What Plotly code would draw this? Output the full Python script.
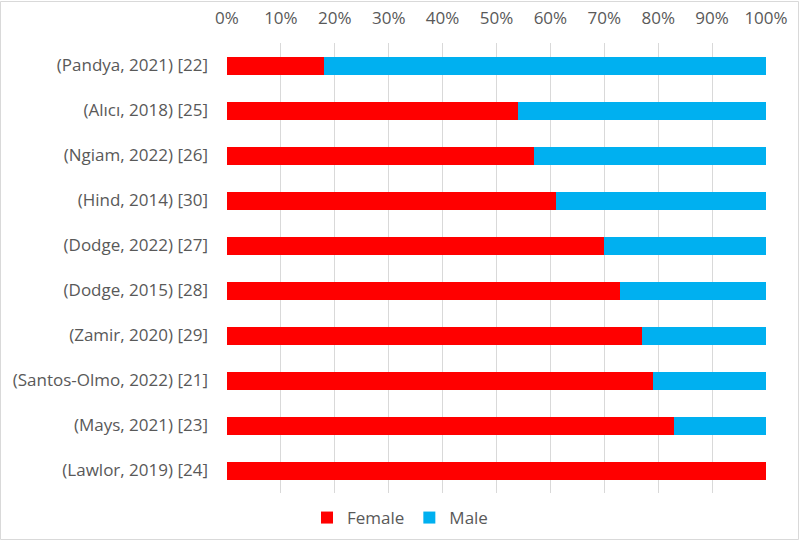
import plotly.graph_objects as go

studies = ["(Pandya, 2021) [22]", "(Alıcı, 2018) [25]", "(Ngiam, 2022) [26]", "(Hind, 2014) [30]",
           "(Dodge, 2022) [27]", "(Dodge, 2015) [28]", "(Zamir, 2020) [29]", "(Santos-Olmo, 2022) [21]",
           "(Mays, 2021) [23]", "(Lawlor, 2019) [24]"]
female = [18, 54, 57, 61, 70, 73, 77, 79, 83, 100]
male = [82, 46, 43, 39, 30, 27, 23, 21, 17, 0]
x_ticks = list(range(0, 101, 10))
x_ticktext = [f"{v}%" for v in x_ticks]

W, H = 800, 541
L, R, T, B = 227, 34, 43, 48
pw, ph = W - L - R, H - T - B

def px(x):
    return (x - L) / pw

def py(y):
    return (H - B - y) / ph

fig = go.Figure()
fig.add_trace(go.Bar(y=studies, x=female, name="Female", orientation="h",
                     marker=dict(color="#FF0000", line=dict(width=0))))
fig.add_trace(go.Bar(y=studies, x=male, name="Male", orientation="h",
                     marker=dict(color="#00B0F0", line=dict(width=0))))

fig.update_layout(
    width=W, height=H,
    barmode="stack", bargap=0.6,
    margin=dict(l=L, r=R, t=T, b=B),
    paper_bgcolor="white", plot_bgcolor="white",
    font=dict(family="Open Sans, sans-serif", size=17, color="#595959"),
    xaxis=dict(side="top", range=[0, 100], tickvals=x_ticks, ticktext=x_ticktext,
               showgrid=True, gridcolor="#D9D9D9", gridwidth=1, zeroline=False,
               showline=False, ticks="", ticklabelstandoff=15, fixedrange=True,
               automargin=False),
    yaxis=dict(autorange="reversed", showgrid=False, showline=False, ticks="",
               ticklabelstandoff=18, fixedrange=True, automargin=False),
    legend=dict(orientation="h", xref="container", yref="container", x=0.5, y=1 - 518 / H,
                xanchor="center", yanchor="middle", font=dict(size=17, color="#595959"),
                itemwidth=30, traceorder="normal"),
    shapes=[dict(type="rect", xref="paper", yref="paper",
                 x0=px(0.5), x1=px(798.5), y0=py(539.5), y1=py(1.5),
                 line=dict(color="#D9D9D9", width=1), fillcolor="rgba(0,0,0,0)", layer="below")],
)

fig.write_html("out.html")
